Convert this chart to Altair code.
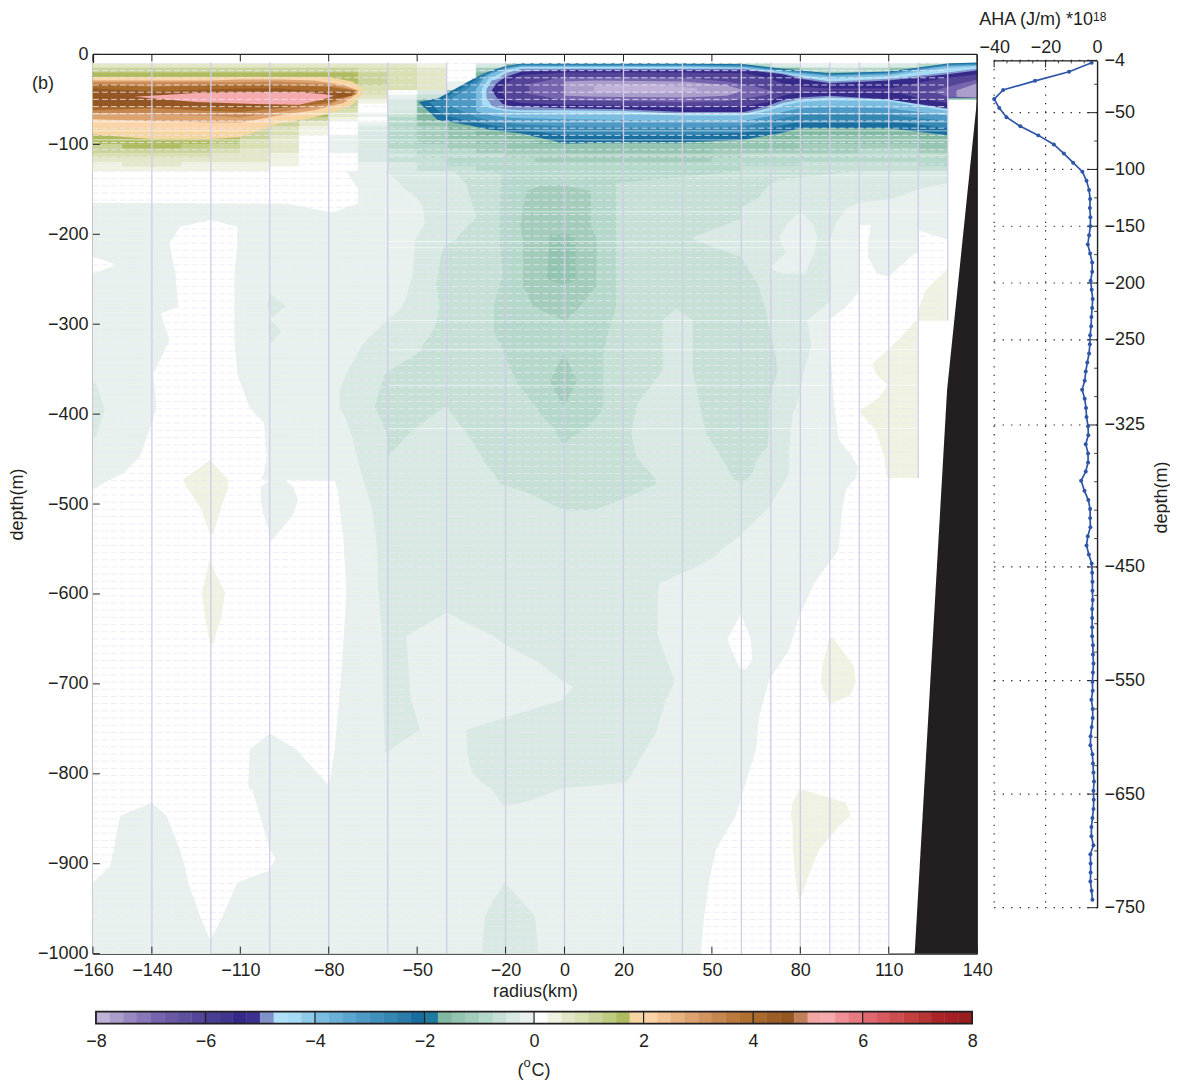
import altair as alt
import pandas as pd

FONT = "Liberation Sans"
INK = "#231f20"
FS = 18

# ---------- colour bar (one colour per 0.25 degC, -8 .. 8) ----------
BAR_COLORS = [
    "#bfb1d8","#ab9ecb","#9889c0","#8977b7","#7664ae","#6b59a6","#6050a0","#544599",
    "#473d92","#41358e","#35298a","#3c3090","#7f93c8","#aee0f8","#a6dcf6","#8ecbea",
    "#7bbde0","#69b1d6","#5aa6cf","#4c9ac5","#3f90bd","#3486b3","#2a7ba8","#176e9f",
    "#1f7aa0","#80b8a0","#93c4b0","#a3ccbb","#b4d8c9","#c6e0d6","#d8e9e3","#e8f1ee",
    "#ffffff","#f0f2e2","#e3e7c8","#d8dfb0","#cad39a","#bdcc80","#b0bb60","#f5d5a0",
    "#fcd4a8","#f2c495","#e6b280","#dca270","#d19460","#c68650","#bc7a3e","#b27030",
    "#a86a2a","#9c5e26","#945622","#c0805a","#f4a6a4","#f6aaae","#ee9096","#e67a80",
    "#e06870","#d85a60","#cc4e50","#c4403f","#b83536","#ac2428","#a42025","#981e20",
]
BAR_TICKS = [-8, -6, -4, -2, 0, 2, 4, 6, 8]

def col(v):
    i = int((v + 8) * 4)
    return BAR_COLORS[max(0, min(63, i))]

# ---------- upper ocean background: rows every 5 m, columns every 10 km ----------
GRID_X = [-160 + 10 * i for i in range(31)]
GRID_D = [10 + 5 * i for i in range(25)]
R10 = [.6,.6,.6,.6,.6,.6,.6,.6,.6,.6,.5,.4,.1,-.5,-1.3,-1.6,-1.6,-1.6,-1.6,-1.6,-1.6,-1.6,-1,-.4,-.2,-.2,-.1,-.4,-1,-1.6]
R15 = [1.1,1.1,1.1,1.1,1.1,1.1,1.1,1.1,1.1,.9,.8,.6,.1,-1.2,-1.6,-1.6,-1.6,-1.6,-1.6,-1.6,-1.6,-1.6,-1.6,-1.6,-.8,-.6,-.8,-1.5,-1.6,-1.6]
R20 = [1.6,1.6,1.6,1.6,1.6,1.6,1.6,1.6,1.6,1,.8,.7,.1,-1.6,-1.6,-1.6,-1.6,-1.6,-1.6,-1.6,-1.6,-1.6,-1.6,-1.6,-1.6,-1.6,-1.6,-1.6,-1.6,-1.6]
R25 = [1.6,1.6,1.6,1.6,1.6,1.6,1.6,1.6,1.6,1.1,.8,.7,.01,-1.6,-1.6,-1.6,-1.6,-1.6,-1.6,-1.6,-1.6,-1.6,-1.6,-1.6,-1.6,-1.6,-1.6,-1.6,-1.6,-1.6]
R30 = [1.6,1.6,1.6,1.6,1.6,1.6,1.6,1.6,1.6,1.2,.8,.7,-.1,-1.6,-1.6,-1.6,-1.6,-1.6,-1.6,-1.6,-1.6,-1.6,-1.6,-1.6,-1.6,-1.6,-1.6,-1.6,-1.6,-1.6]
R35 = [1.6,1.6,1.6,1.6,1.6,1.6,1.6,1.6,1.6,.9,.8,.6,-.2,-1.6,-1.6,-1.6,-1.6,-1.6,-1.6,-1.6,-1.6,-1.6,-1.6,-1.6,-1.6,-1.6,-1.6,-1.6,-1.6,-1.6]
R40 = [1.6,1.6,1.6,1.6,1.6,1.6,1.6,1.6,1.6,.8,.1,-.3,-1.6,-1.6,-1.6,-1.6,-1.6,-1.6,-1.6,-1.6,-1.6,-1.6,-1.6,-1.6,-1.6,-1.6,-1.6,-1.6,-1.6,-1.6]
R45 = [1.6,1.6,1.6,1.6,1.6,1.6,1.6,1.6,1.6,.6,-.2,-.7,-1.6,-1.6,-1.6,-1.6,-1.6,-1.6,-1.6,-1.6,-1.6,-1.6,-1.6,-1.6,-1.6,-1.6,-1.6,-1.6,-1.6,-1.6]
R50 = [1.6,1.6,1.6,1.6,1.6,1.6,1.6,1.6,1.2,.3,-.3,-1.6,-1.6,-1.6,-1.6,-1.6,-1.6,-1.6,-1.6,-1.6,-1.6,-1.6,-1.6,-1.6,-1.6,-1.6,-1.6,-1.6,-1.6]
R55 = [1.6,1.6,1.6,1.6,1.6,1.6,1.6,1.6,1,.1,-.4,-1.6,-1.6,-1.6,-1.6,-1.6,-1.6,-1.6,-1.6,-1.6,-1.6,-1.6,-1.6,-1.6,-1.6,-1.6,-1.6,-1.6,-1.6]
R60 = [1.6,1.6,1.6,1.6,1.6,1.6,1.6,1.6,.8,.01,-.5,-1.6,-1.6,-1.6,-1.6,-1.6,-1.6,-1.6,-1.6,-1.6,-1.6,-1.6,-1.6,-1.6,-1.6,-1.6,-1.6,-1.6,-1.6]
R65 = [1.6,1.6,1.6,1.6,1.6,1.6,1.6,1.6,.6,-.2,-.7,-1.6,-1.6,-1.6,-1.6,-1.6,-1.6,-1.6,-1.6,-1.6,-1.6,-1.6,-1.6,-1.6,-1.6,-1.6,-1.6,-1.6,-1.6]
R70 = [1.6,1.6,1.6,1.6,1.6,1.6,1.6,1,.4,.1,-.8,-1.6,-1.6,-1.6,-1.6,-1.6,-1.6,-1.6,-1.6,-1.6,-1.6,-1.6,-1.6,-1.6,-1.6,-1.6,-1.6,-1.6,-1.6]
R75 = [1.6,1.6,1.6,1.6,1.6,1.6,1.2,.6,.2,-.2,-.9,-1.4,-1.6,-1.6,-1.6,-1.6,-1.6,-1.6,-1.6,-1.6,-1.6,-1.6,-1.6,-1.6,-1.6,-1.6,-1.6,-1.6,-1.6]
R80 = [1.6,1.6,1.6,1.6,1.6,1.2,.9,.4,.01,-.3,-1,-1.2,-1.6,-1.6,-1.6,-1.6,-1.6,-1.6,-1.6,-1.6,-1.6,-1.6,-1.6,-1.6,-1.6,-1.6,-1.6,-1.6,-1.6]
R85 = [1.6,1.6,1.6,1.6,1.6,1.1,.8,.3,.01,-.3,-1,-1.2,-1.4,-1.6,-1.6,-1.6,-1.6,-1.6,-1.6,-1.6,-1.6,-1.6,-1.6,-1.6,-1.6,-1.6,-1.6,-1.6,-1.6]
R90 = [1.6,1.6,1.6,1.6,1.5,1,.6,.1,-.1,-.4,-1,-1.1,-1.3,-1.5,-1.6,-1.6,-1.6,-1.6,-1.6,-1.6,-1.6,-1.6,-1.6,-1.6,-1.5,-1.5,-1.5,-1.5,-1.6]
R95 = [1.5,1.6,1.6,1.6,1.3,.9,.5,.1,-.1,-.4,-.9,-1.1,-1.2,-1.3,-1.4,-1.6,-1.6,-1.6,-1.6,-1.6,-1.6,-1.5,-1.4,-1.4,-1.3,-1.3,-1.3,-1.3,-1.5]
R100 = [1.2,1.5,1.5,1.3,1.1,.8,.5,.1,-.1,-.4,-.8,-1,-1.1,-1.2,-1.3,-1.4,-1.5,-1.5,-1.5,-1.5,-1.4,-1.3,-1.3,-1.3,-1.2,-1.2,-1.2,-1.2,-1.3]
R105 = [1,1.2,1.2,1.1,.9,.7,.5,.1,-.1,-.4,-.7,-.9,-1,-1.1,-1.2,-1.2,-1.3,-1.3,-1.3,-1.3,-1.3,-1.2,-1.2,-1.1,-1.1,-1.1,-1,-1,-1.1]
R110 = [.8,.9,.9,.8,.7,.6,.4,.1,.01,-.3,-.7,-.8,-.9,-1,-1.1,-1.2,-1.2,-1.2,-1.2,-1.2,-1.2,-1.1,-1,-1,-.9,-.9,-.9,-.9,-1]
R115 = [.6,.7,.7,.6,.6,.5,.4,.1,.01,-.3,-.6,-.7,-.8,-.9,-1,-1.1,-1.1,-1.1,-1.1,-1.1,-1.1,-1,-.9,-.9,-.8,-.8,-.8,-.8,-.9]
R120 = [.4,.5,.5,.4,.4,.3,.3,.1,.01,-.2,-.5,-.7,-.8,-.8,-.9,-1,-1,-1,-1,-1,-1,-.9,-.8,-.8,-.7,-.7,-.7,-.7,-.8]
R125 = [.3,.3,.3,.3,.3,.3,.2,.05,.01,-.2,-.5,-.6,-.7,-.8,-.9,-1,-1,-1,-.9,-.9,-.8,-.8,-.7,-.7,-.6,-.6,-.6,-.6,-.7]
GRID = [R10,R15,R20,R25,R30,R35,R40,R45,R50,R55,R60,R65,R70,R75,R80,R85,R90,R95,R100,R105,R110,R115,R120,R125]

# ---------- warm core isotherms: (temperature, [(km, top depth, bottom depth), ...]) ----------
W18 = (1.8, [(-160,25,89),(-140,25,94),(-120,25,94),(-110,25,92),(-97,25,77),(-88,25,72),(-80,25,66),(-72,30,56),(-68.5,38,44)])
W22 = (2.2, [(-160,27,80),(-120,27,86),(-110,27,84),(-97,27,72),(-85,27,66),(-76,31,56),(-69.5,40,43)])
W28 = (2.8, [(-160,29,72),(-120,29,76),(-110,28,76),(-97,28,68),(-85,29,62),(-75,34,54),(-70,40,43)])
W34 = (3.4, [(-160,31,66),(-120,31,68),(-110,31,70),(-97,30,64),(-80,33,56),(-70.5,40,43)])
W40 = (4.0, [(-160,33,62),(-140,36,60),(-120,34,63),(-110,34,64),(-97,34,60),(-80,36,54),(-71,40,44)])
W46 = (4.6, [(-160,38,58),(-140,41,58),(-120,39,58),(-110,38,60),(-97,38,57),(-82,41,50),(-72,44,46)])
W53 = (5.3, [(-146,47,47),(-125,43,53),(-105,42,55),(-90,42,56),(-82,44,50),(-78,46,46)])

# ---------- cold core isotherms ----------
C21 = (-2.1, [(-49.5,53,53),(-43,49,73),(-32,29,79),(-28,22,82),(-24.7,18,84),(-20,13,86),(-14.6,10,88),(0,10,99),(20,10,98),(40,10,98),(61,11,95),(69,14,90),(74,16,87),(80,18,82),(90,21,82),(110,19,82),(130,10,90),(130.01,10,48),(140,9,48)])
C26 = (-2.6, [(-46,53,53),(-41,49,68),(-31,30,75),(-28,23,77),(-24.7,19,79),(-20,14,81),(-14.6,11,84),(0,11,90),(20,11,90),(40,11,90),(61,12,87),(69,15,82),(74,17,79),(80,19,75),(90,22,74),(110,20,74),(130,11,82),(130.01,11,48),(140,10,48)])
C32 = (-3.2, [(-40,52,56),(-30,32,70),(-27,24,72),(-24.7,20,74),(-20,15,76),(-14.6,12,78),(0,12,80),(20,12,81),(40,12,81),(61,13,80),(69,16,75),(74,18,71),(80,20,67),(90,23,66),(110,21,67),(130,12,74),(130.01,12,48),(140,11,48)])
C38 = (-3.8, [(-30,38,63),(-27,25,66),(-24.7,21,68),(-20,16,70),(-14.6,13,71),(0,13,72),(20,13,73),(40,13,74),(61,14,74),(69,17,69),(74,19,64),(80,21,60),(90,24,59),(110,22,60),(130,13,68),(130.01,13,48),(140,12,48)])
C44 = (-4.4, [(-28,38,56),(-26,28,59),(-23.5,24,61),(-20,18,63),(-14.6,14,64),(0,14,65),(20,14,66),(40,14,68),(61,15,68),(69,18,63),(74,20,57),(80,23,53),(90,27,51),(110,24,52),(130,15,63),(130.01,15,48),(140,13,48)])
C49 = (-4.9, [(-26.5,39,48),(-24.7,29,57),(-23,28,59),(-20,21,61),(-14.6,16,62),(0,16,62),(20,16,63),(40,16,66),(61,16,66),(69,19,60),(74,21,54),(80,25,50),(90,30,48),(110,27,50),(130,20,61),(130.01,20,48),(140,16,48)])
C55 = (-5.5, [(-24.7,40,40),(-23,32,48),(-21,27,55),(-19,24,57),(-14.6,19,58),(0,17,60),(20,17,61),(40,17,64),(61,17,64),(69,20,57),(74,22,51),(80,27,48),(90,32,46),(110,29,50),(130,22,60),(130.01,22,48),(140,18,48)])
C62 = (-6.2, [(-21,36,44),(-19,30,51),(-14.6,23,54),(0,20,56),(20,20,57),(40,20,59),(61,21,58),(69,26,53),(74,32,46),(80,36,42),(90,38,40),(110,38,40),(122,30,50),(130,26,54),(130.01,26,48),(140,22,48)])
C70 = (-7, [(-12,33,44),(0,25,51),(20,25,52),(40,26,53),(55,30,52),(65,36,47),(72,42,43),(125,41,42),(130,36,47),(140,28,48)])
C76 = (-7.6, [(0,30,46),(10,29,47),(40,30,48),(55,34,46),(60,39,41)])
C76R = (-7.6, [(133,40,47),(140,32,48)])
C79 = (-7.9, [(10,35,42),(30,33,43),(45,38,41)])
CORES = [W18, W22, W28, W34, W40, W46, W53, C21, C26, C32, C38, C44, C49, C55, C62, C70, C76, C76R, C79]

# ---------- deep contour patches: (temperature, [(depth, left km, right km), ...]) ----------
L1_MAIN = (-.1, [(130,-160,130),(296,-160,130),(296.1,-160,120),(471,-160,120),(471.1,-160,110),(1000,-160,110)])
W_TOP = (0, [(130,-160,-74),(150,-160,-70),(165,-160,-70),(166,-94,-70.5),(175,-80,-78)])
W_NOTCH = (0, [(225,-160,-160),(234,-160,-152),(244,-160,-160)])
W_LEFT = (0, [(184,-120.5,-119.5),(192,-130.5,-111),(210,-134,-111),(244,-132,-112),(281,-131,-112),(288,-137,-112),
              (318,-134,-112),(355,-139.5,-111),(392,-138.4,-107),(410,-140,-102),(447,-144,-101),(466,-149.7,-102),
              (473,-154,-103),(474,-155,-78),(484,-160,-77),(540,-160,-75),(600,-160,-74),(700,-160,-76),(736,-160,-77),
              (773,-160,-78),(816,-160,-80),(817,-160,-106),(884,-160,-100),(895,-160,-98),(908,-160,-100.5),
              (921,-160,-111),(958,-160,-116),(984,-160,-120),(985,-160,-121)])
W_DOT = (0, [(497,-39.5,-39.5),(505,-41,-38),(513,-39.5,-39.5)])
W_RIGHT = (0, [(190,100,104),(207,100,103),(225,100,103),(244,100,106),(255,100,120),(266,99.4,120),(281,95.5,120),
               (295,89.8,120),(318,90,120),(392,91.5,120),(429,93.2,120),(447,97.7,120),(458,99.4,120),(471,99,120),
               (474,98,110),(484,95.5,110),(503,94.3,110),(551,93,110),(570,88.7,110),(588,84.7,110),(625,79.6,110),
               (662,76.2,110),(695,69.5,110),(736,66,110),(773,65,110),(810,61.5,110),(847,58,110),(884,51.4,110),
               (921,49,110),(958,47.4,110),(1000,46.3,110)])
W_EDGE = (0, [(196,120,120.5),(206,120,130),(296,120,130)])
W_STEP = (0, [(221,119,120),(244,111,120),(255,108,120),(258,108,120)])
W_ISLE = (0, [(622,59.8,59.8),(650,55.3,63.2),(673,58,63.7),(684,59.8,61.5)])
L1_LENS = (-.1, [(473,-100,-95),(481,-103,-92),(496,-103,-90.4),(511,-102.2,-92),(526,-100.5,-95.5),(541,-100,-99.5)])
L1_BLOB1 = (-.1, [(832,-140,-140),(847,-150.8,-135),(884,-153,-130.5),(903,-154.2,-128.8),(921,-160,-127.7),(958,-160,-123.7),(984,-160,-120.3),(1000,-160,-120)])
L1_BLOB2 = (-.1, [(755,-100,-100),(773,-106.8,-91),(810,-107.3,-80.8),(817,-107,-79)])
O1 = (.3, [(451,-120.3,-120.3),(473,-129.4,-114.1),(481,-128.2,-114.1),(503,-123.7,-116.4),(533,-120.3,-119.2)])
O2 = (.3, [(562,-120.5,-120.5),(599,-123,-115.2),(625,-122,-116.4),(655,-120.3,-119.2)])
O3 = (.3, [(649,89.8,91),(680,87.5,98.3),(699,87,98.8),(714,88.7,96.6),(721,89.8,90.9)])
O4 = (.3, [(818,79.6,81),(832,77.4,95.5),(847,76.8,97.1),(858,77.4,93.2),(884,77.4,86.4),(921,78.5,81.9),(940,79.6,80)])
O5 = (.3, [(240,129.5,130),(262,122.5,130),(286,119.8,130),(296,119.8,130)])
O6 = (.3, [(296,119.3,119.8),(318,113,119.8),(344,104.5,119.8),(355,105.6,119.8),(368,109.6,119.8),(381,106.8,119.8),
           (397,100,119.8),(418,105.6,119.8),(447,108.4,119.8),(471,109.5,119.8)])
L2_MAIN = (-.3, [(130,-61.6,130),(133,-59.3,130),(143,-56,130),(150,-54,120),(160,-50,112),(165,-49,100),(170,-48,96),
                 (188,-47.4,92),(207,-50.8,89.8),(244,-51.4,90.4),(273,-54,90.4),(281,-55.3,88),(284,-56,86.4),(296,-60.4,82.4),
                 (318,-67.2,83.4),(325,-69,83.6),(355,-74,81),(373,-76.3,80.2),(392,-76.3,78.5),(399,-75,77.4),(429,-71.7,76.5),
                 (440,-71,76.2),(466,-68.9,76.2),(503,-65.5,69.5),(536,-64,59.3),(551,-63.6,53),(558,-63.5,51.4),(570,-63.4,44.6),
                 (588,-63.3,32.2),(600,-63,31.6),(644,-62,31.6),(650,-61.8,32),(662,-61.8,33.3),(695,-61.6,37.2),(700,-61.6,37),
                 (718,-61.5,34.4),(755,-61.2,31),(773,-61,27.6),(776,-61,27),(777,-33,26.6),(792,-32,24.3),(800,-31,23),
                 (810,-28,20.9),(816,-25,-.6),(830,-22,-11.9),(836,-20,-20)])
L2_DIAM1 = (-.3, [(266,-100,-100),(280,-101,-94.5),(292,-99.5,-99)])
L2_DIAM2 = (-.3, [(296,-100.5,-99.5),(308,-100.5,-96),(321,-100,-99.5)])
L2_EDGE = (-.3, [(366,-160,-159),(395,-160,-156),(425,-160,-159)])
L2_BOTTOM = (-.3, [(921,-20.3,-20.3),(940,-24,-15),(958,-27,-10),(995,-28,-9),(1000,-28,-9)])
H1 = (-.1, [(621,-40,-40),(636,-48,-31),(647,-53.7,-24),(656,-53.5,-20.3),(677,-53,-8.4),(697,-52.6,-.6),(703,-52.5,2.8),
            (718,-52,-.6),(729,-51,-11.9),(751,-49,-33.3),(766,-56,-33),(777,-60.4,-33)])
H2 = (-.1, [(175,80,80),(188,75.7,84.1),(203,72.9,85.8),(221,75.1,84.7),(229,72.3,83.6),(238,69.5,82.4),(244,74,81.9)])
L3_MAIN = (-.6, [(130,-37.8,100),(135,-36,85),(140,-34.5,72),(144,-33.3,70),(150,-32.8,68),(159,-32,66),(170,-31,60),
                 (181,-30,60),(183,-30.5,59.8),(203,-36.3,43.5),(206,-36.7,44),(214,-41,50),(225,-42,59.8),(255,-43.5,65.5),
                 (260,-43.3,66),(281,-42.4,68),(303,-44,69.5),(307,-44.6,69.8),(333,-50,71.5),(351,-59,72.3),(355,-61,72),
                 (384,-63.8,69.5),(392,-64.4,69.5),(403,-62.7,69.5),(421,-60.4,69.3),(436,-60.2,69),(447,-60,66),(451,-27.7,65),
                 (466,-24,63.8),(477,-22,60.4),(478,-21.5,31),(488,-12,24.3),(494,-8.4,20),(506,-.6,10.7),(507,0,9)])
L2_WEDGE = (-.3, [(392,-41,-40),(421,-52.6,-33.3),(447,-60,-28),(451,-60,-27.7)])
L2_FINGER = (-.3, [(282.6,37.8,37.8),(296,33.3,43.5),(351,33.3,43.5),(388,24.8,45.7),(421,22.6,48),(447,24.3,53),(473,31,57.6),(477,31,60.4),(478,31,61)])
L4_MAIN = (-.9, [(130,-27,60),(133,-21,50),(136,-21.5,40),(143,-21.5,17.5),(170,-22,17.5),(207,-22,17.5),(244,-21,17.5),
                 (281,-24,17.5),(307,-24,15),(333,-20.5,13),(337,-20,13),(366,-16,13),(392,-9.5,13),(399,-8.4,12),(414,-4,8),(432,-.6,0)])
L5_A = (-1.1, [(146,-8,0),(152,-13,9),(190,-15,9),(207,-14,11),(258,-14,10.7),(281,-10.5,5),(296,0,.5)])
L5_B = (-1.1, [(334,-.5,0),(362,-4.6,4),(366,-4.6,3.9),(391,-.2,0)])
L6_A = (-1.3, [(200,-5,3.5),(250,-6,4),(255,-1,1)])
PATCHES = [L1_MAIN, W_TOP, W_NOTCH, W_LEFT, W_DOT, W_RIGHT, W_EDGE, W_STEP, W_ISLE, L1_LENS, L1_BLOB1, L1_BLOB2,
           O1, O2, O3, O4, O5, O6, L2_MAIN, L2_DIAM1, L2_DIAM2, L2_EDGE, L2_BOTTOM, H1, H2,
           L3_MAIN, L2_WEDGE, L2_FINGER, L4_MAIN, L5_A, L5_B, L6_A]

# ---------- station sections and sampled depths ----------
STATIONS = [(-140,1000),(-120,1000),(-100,1000),(-80,1000),(-60,1000),(-40,1000),(-20,1000),(0,1000),(20,1000),(40,1000),
            (60,1000),(70,1000),(80,1000),(90,1000),(100,1000),(110,1000),(120,471),(130,296)]
SAMPLE_DEPTHS = list(range(10, 1000, 8))
SOLID_DEPTHS = [66, 75, 85, 95, 112, 135, 175, 208, 215, 296, 328, 368, 416]
WEDGE = [(49, 140), (373, 129.8), (1000, 118.8)]
X_TICKS = [-160, -140, -110, -80, -50, -20, 0, 20, 50, 80, 110, 140]
Y_TICKS = [-1000, -900, -800, -700, -600, -500, -400, -300, -200, -100, 0]

# ---------- heat-anomaly profile ----------
AHA_DEPTH = [6,14,22,30,38,46,54,62,70,78,86,94,102,110,118,126,134,142,150,158,166,174,182,190,198,206,214,222,230,238,246,
             254,262,270,278,286,294,302,310,318,326,334,342,350,358,366,374,383,391,399,407,415,423,431,439,447,455,463,471,
             479,487,495,503,511,519,527,535,543,551,559,567,575,583,591,599,607,615,623,631,639,647,655,663,671,679,687,695,
             703,711,719,727,735,743]
AHA = [-2.1,-10.9,-24.1,-36.5,-40,-38,-35.2,-29.8,-22.8,-16.8,-12.9,-9.3,-5.7,-4.1,-3.1,-2.7,-2.8,-2.6,-2.6,-3.1,-3.6,-2.7,
       -1.9,-1.9,-2.5,-2.1,-1.7,-1.9,-2.2,-2.3,-2.7,-2.8,-3.1,-3.8,-4.4,-4.8,-5.8,-4.8,-4.3,-4.1,-3.5,-3.4,-4.4,-3.5,-3.5,
       -4.4,-6.2,-4.9,-3.4,-2.7,-2.7,-2.6,-3.6,-4.1,-3.2,-2.1,-1.9,-1.8,-1.8,-1.7,-1.9,-1.9,-1.9,-1.9,-1.6,-1.6,-1.4,-1.6,
       -1.8,-1.7,-2.2,-1.7,-1.7,-2.1,-2.5,-2.6,-1.8,-1.6,-1.4,-1.2,-1.4,-1.3,-1.4,-1.8,-2.2,-2.2,-1.4,-2.6,-2.5,-2.5,-2.6,
       -2.1,-1.8]
AHA_X_MAJOR = [-40, -20, 0]
AHA_X_MINOR = [-35, -30, -25, -15, -10, -5]
AHA_Y_MAJOR = [-4, -50, -100, -150, -200, -250, -325, -450, -550, -650, -750]
AHA_Y_MINOR = [-25, -75, -125, -175, -225, -275, -300, -350, -375, -400, -425, -475, -500, -525, -575, -600, -625, -675, -700, -725]

LBL = "replace(datum.label,'-','\u2212')"
COMMON = dict(ticks=False, grid=False, labelExpr=LBL, format="d", domainColor=INK, domainWidth=1.4, labelFontSize=FS, titleFontSize=FS,
              titleFontWeight="normal", labelFont=FONT, titleFont=FONT, labelColor=INK, titleColor=INK,
              labelOverlap=False, labelFlush=False)

# ---------- main panel ----------
xs = alt.Scale(domain=[-160, 140], nice=False, zero=False)
ys = alt.Scale(domain=[-1000, 0], nice=False, zero=False)
AX_X = alt.Axis(values=X_TICKS, labelPadding=8, titlePadding=3, **COMMON)
AX_Y = alt.Axis(values=Y_TICKS, labelPadding=5, titleX=-75, titleBaseline="middle", **COMMON)
X = lambda f: alt.X(f, type="quantitative", scale=xs, axis=AX_X, title="radius(km)")
Y = lambda f: alt.Y(f, type="quantitative", scale=ys, axis=AX_Y, title="depth(m)")

cells = []
for row, d in zip(GRID, GRID_D):
    for j, v in enumerate(row):
        cells.append(dict(x=GRID_X[j], x2=GRID_X[j + 1], y=-d, y2=-(d + 5), c=col(v)))
cell_df = pd.DataFrame(cells)

layers = [alt.Chart(cell_df).mark_rect(strokeWidth=0.5).encode(
    x=X("x"), x2="x2:Q", y=Y("y"), y2="y2:Q",
    fill=alt.Fill("c:N", scale=None), stroke=alt.Stroke("c:N", scale=None))]

for v, rows in CORES:
    df = pd.DataFrame([dict(k=a, t=-b, b=-c) for a, b, c in rows])
    layers.append(alt.Chart(df).mark_area(color=col(v), opacity=1).encode(x=X("k"), y=Y("t"), y2="b:Q"))

for v, rows in PATCHES:
    df = pd.DataFrame([dict(d=-a, l=b, r=c) for a, b, c in rows])
    layers.append(alt.Chart(df).mark_area(orient="horizontal", color=col(v), opacity=1).encode(y=Y("d"), x=X("l"), x2="r:Q"))

sample_df = pd.DataFrame([dict(d=-d, l=-160, r=(130 if d < 296 else 120 if d < 471 else 110)) for d in SAMPLE_DEPTHS])
layers.append(alt.Chart(sample_df).mark_rule(color="#ebe9f6", strokeWidth=0.8, strokeDash=[6, 3]).encode(y=Y("d"), x=X("l"), x2="r:Q"))
solid_df = pd.DataFrame([dict(d=-d, l=(-160 if d < 100 else -60), r=(130 if d < 296 else 120)) for d in SOLID_DEPTHS])
layers.append(alt.Chart(solid_df).mark_rule(color="#ffffff", strokeWidth=1, opacity=.6).encode(y=Y("d"), x=X("l"), x2="r:Q"))
station_df = pd.DataFrame([dict(x=a, y=-9, y2=-b) for a, b in STATIONS])
layers.append(alt.Chart(station_df).mark_rule(color="#cfcde6", strokeWidth=1.3).encode(x=X("x"), y=Y("y"), y2="y2:Q"))

wedge_df = pd.DataFrame([dict(d=-a, l=b, r=140) for a, b in WEDGE])
layers.append(alt.Chart(wedge_df).mark_area(orient="horizontal", color=INK, opacity=1).encode(y=Y("d"), x=X("l"), x2="r:Q"))

xt = pd.DataFrame(dict(t=X_TICKS))
yt = pd.DataFrame(dict(t=Y_TICKS))
layers.append(alt.Chart(xt).mark_rule(color=INK, strokeWidth=1).encode(x=X("t"), y=alt.value(0), y2=alt.value(7)))
layers.append(alt.Chart(xt).mark_rule(color=INK, strokeWidth=1).encode(x=X("t"), y=alt.value(893), y2=alt.value(900)))
layers.append(alt.Chart(yt).mark_rule(color=INK, strokeWidth=1).encode(y=Y("t"), x=alt.value(0), x2=alt.value(7)))
frame_top = pd.DataFrame(dict(a=[-160], b=[140], d=[0]))
layers.append(alt.Chart(frame_top).mark_rule(color=INK, strokeWidth=1.4).encode(y=Y("d"), x=X("a"), x2="b:Q"))
frame_right = pd.DataFrame(dict(x=[140], a=[0], b=[-1000]))
layers.append(alt.Chart(frame_right).mark_rule(color=INK, strokeWidth=1.4).encode(x=X("x"), y=Y("a"), y2="b:Q"))
layers.append(alt.Chart(pd.DataFrame(dict(t=["(b)"]))).mark_text(font=FONT, fontSize=FS, color=INK, align="left").encode(
    x=alt.value(-61), y=alt.value(30), text="t:N"))
main = alt.layer(*layers).properties(width=885, height=900)

# ---------- profile panel ----------
pxs = alt.Scale(domain=[-40, 0], nice=False, zero=False)
pys = alt.Scale(domain=[-4, -750], range=[6, 854], nice=False, zero=False)
AX_PX = alt.Axis(orient="top", values=AHA_X_MAJOR, offset=-6, labelPadding=4, **COMMON)
AX_PY = alt.Axis(orient="right", values=AHA_Y_MAJOR, labelPadding=7, titleAngle=270, titleX=64, titleY=443,
                 titleAlign="center", titleBaseline="middle", **COMMON)
PX = lambda f: alt.X(f, type="quantitative", scale=pxs, axis=AX_PX, title=None)
PY = lambda f: alt.Y(f, type="quantitative", scale=pys, axis=AX_PY, title="depth(m)")

prof_df = pd.DataFrame(dict(d=[-a for a in AHA_DEPTH], v=AHA))
dots_v = pd.DataFrame(dict(x=[-40, -20], a=[-4, -4], b=[-750, -750]))
dots_h = pd.DataFrame(dict(y=AHA_Y_MAJOR, a=-40, b=0))
p_line = alt.Chart(prof_df).mark_line(color="#2f55a8", strokeWidth=1.7, point=alt.OverlayMarkDef(color="#2f55a8", size=16, opacity=1)).encode(
    x=PX("v"), y=PY("d"), order="o:Q").transform_calculate(o="-datum.d")

p_layers = [
    alt.Chart(dots_v).mark_rule(color=INK, strokeWidth=1.2, strokeDash=[1.3, 7.2]).encode(x=PX("x"), y=PY("a"), y2="b:Q"),
    alt.Chart(dots_h).mark_rule(color=INK, strokeWidth=1.2, strokeDash=[1.3, 7.2]).encode(y=PY("y"), x=PX("a"), x2="b:Q"),
    alt.Chart(pd.DataFrame(dict(t=AHA_X_MAJOR[:-1]))).mark_rule(color=INK, strokeWidth=1).encode(x=PX("t"), y=alt.value(6), y2=alt.value(13)),
    alt.Chart(pd.DataFrame(dict(t=AHA_X_MINOR))).mark_rule(color=INK, strokeWidth=.8).encode(x=PX("t"), y=alt.value(6), y2=alt.value(9)),
    alt.Chart(pd.DataFrame(dict(t=AHA_Y_MAJOR))).mark_rule(color=INK, strokeWidth=1).encode(y=PY("t"), x=alt.value(93), x2=alt.value(103)),
    alt.Chart(pd.DataFrame(dict(t=AHA_Y_MINOR))).mark_rule(color=INK, strokeWidth=.8).encode(y=PY("t"), x=alt.value(100), x2=alt.value(103)),
    p_line,
    alt.Chart(pd.DataFrame(dict(t=["AHA (J/m) *10"]))).mark_text(font=FONT, fontSize=FS, color=INK, align="left", baseline="alphabetic").encode(
        x=alt.value(-15), y=alt.value(-29), text="t:N"),
    alt.Chart(pd.DataFrame(dict(t=["18"]))).mark_text(font=FONT, fontSize=12, color=INK, align="left", baseline="alphabetic").encode(
        x=alt.value(99), y=alt.value(-33), text="t:N"),
]
profile = alt.layer(*p_layers).properties(width=103, height=900)

# ---------- colour bar ----------
bxs = alt.Scale(domain=[-8, 8], range=[3, 880], nice=False, zero=False)
AX_B = alt.Axis(values=BAR_TICKS, labelPadding=9, domain=False, **COMMON)
BX = lambda f: alt.X(f, type="quantitative", scale=bxs, axis=AX_B, title=None)
bar_df = pd.DataFrame([dict(a=-8 + i / 4, b=-8 + (i + 1) / 4, c=c) for i, c in enumerate(BAR_COLORS)])
bar = alt.Chart(bar_df).mark_rect(strokeWidth=.4).encode(
    x=BX("a"), x2="b:Q", fill=alt.Fill("c:N", scale=None), stroke=alt.Stroke("c:N", scale=None))
bar_frame = alt.Chart(pd.DataFrame(dict(a=[-8], b=[8]))).mark_rect(fill=None, stroke=INK, strokeWidth=1.6).encode(x=BX("a"), x2="b:Q")
bar_ticks = alt.Chart(pd.DataFrame(dict(t=BAR_TICKS))).mark_rule(color=INK, strokeWidth=1.2).encode(x=BX("t"))
unit_a = alt.Chart(pd.DataFrame(dict(t=["("]))).mark_text(font=FONT, fontSize=FS, color=INK, align="left", baseline="alphabetic").encode(
    x=alt.value(425), y=alt.value(64), text="t:N")
unit_b = alt.Chart(pd.DataFrame(dict(t=["o"]))).mark_text(font=FONT, fontSize=13, color=INK, align="left", baseline="alphabetic").encode(
    x=alt.value(431), y=alt.value(55), text="t:N")
unit_c = alt.Chart(pd.DataFrame(dict(t=["C)"]))).mark_text(font=FONT, fontSize=FS, color=INK, align="left", baseline="alphabetic").encode(
    x=alt.value(439), y=alt.value(64), text="t:N")
colorbar = alt.layer(bar, bar_frame, bar_ticks, unit_a, unit_b, unit_c).properties(width=885, height=12)

chart = alt.concat(main, profile, colorbar, columns=2, bounds="flush",
                   spacing=alt.RowColnumber(row=58, column=17)).properties(
    padding={"left": 1, "top": 3, "right": 0, "bottom": 0}, background="white"
).configure_view(stroke=None)

chart.save("out.html", embed_options={"renderer": "svg", "actions": False})
